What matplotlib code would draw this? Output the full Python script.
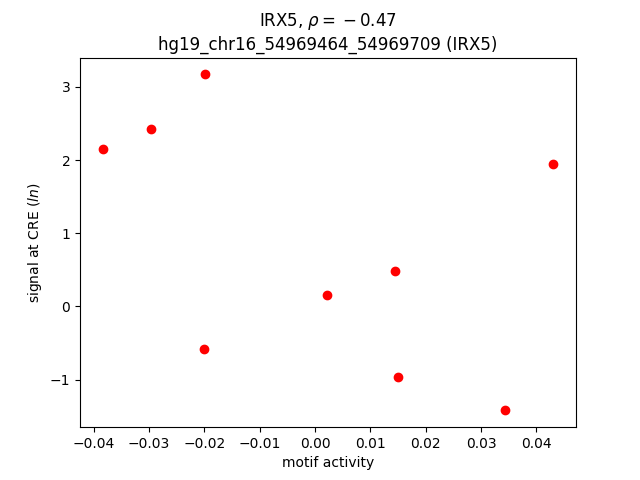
import matplotlib
matplotlib.use("Agg")
import matplotlib.pyplot as plt

motif_activity = [-0.0384, -0.0297, -0.0199, -0.0201, 0.0022, 0.0145, 0.0150, 0.0344, 0.0431]
signal = [2.15, 2.43, 3.17, -0.58, 0.15, 0.48, -0.97, -1.42, 1.95]

fig, ax = plt.subplots(figsize=(6.4, 4.8), dpi=100)
ax.scatter(motif_activity, signal, color="red")
ax.set_xlabel("motif activity")
ax.set_ylabel("signal at CRE ($ln$)")
ax.set_title("IRX5, $\\rho={}-0.47$\nhg19_chr16_54969464_54969709 (IRX5)")
fig.savefig("out.png")
